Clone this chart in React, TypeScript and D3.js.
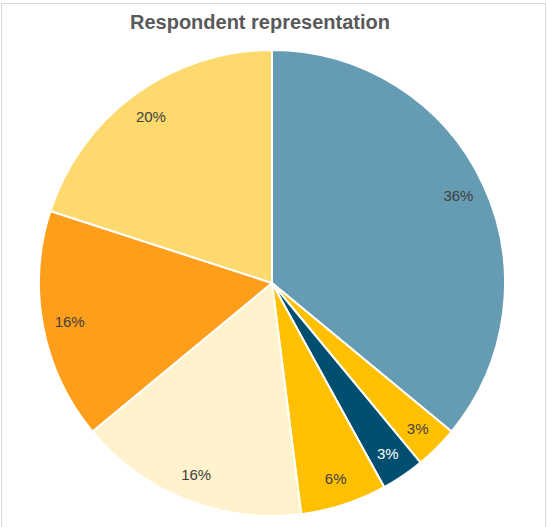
import React from "react";
import * as d3 from "d3";

const categories = ["A", "B", "C", "D", "E", "F", "G"];
const values = [36, 3, 3, 6, 16, 16, 20];
const labels = ["36%", "3%", "3%", "6%", "16%", "16%", "20%"];
const colors = ["#659CB3", "#FFC000", "#004F71", "#FFC000", "#FFF2CC", "#FF9E1B", "#FDD96E"];
const labelColors = ["#404040", "#404040", "#FFFFFF", "#404040", "#404040", "#404040", "#404040"];

export default function App() {
  const W = 548, H = 527;
  const cx = 272, cy = 283, R = 233;
  const pie = d3.pie<number>().value((d) => d).sort(null);
  const arcs = pie(values);
  const arc = d3.arc<d3.PieArcDatum<number>>().innerRadius(0).outerRadius(R);
  const labelArc = d3.arc<d3.PieArcDatum<number>>().innerRadius(206).outerRadius(206);
  return (
    <svg width={W} height={H} style={{ position: "absolute", left: 0, top: 0 }}>
      <rect x={1.5} y={3.5} width={544} height={540} fill="#fff" stroke="#D9D9D9" strokeWidth={1} />
      <text x={260} y={29} textAnchor="middle" fontFamily="Liberation Sans, Arial, sans-serif" fontWeight="bold" fontSize={20} fill="#595959">
        Respondent representation
      </text>
      <g transform={`translate(${cx},${cy})`}>
        {arcs.map((a, i) => (
          <path key={categories[i]} d={arc(a) || ""} fill={colors[i]} stroke="#fff" strokeWidth={2} strokeLinejoin="round" />
        ))}
        {arcs.map((a, i) => {
          const [x, y] = labelArc.centroid(a);
          return (
            <text key={"l" + i} x={x} y={y} dy="0.35em" textAnchor="middle" fontFamily="Liberation Sans, Arial, sans-serif" fontSize={15} fill={labelColors[i]}>
              {labels[i]}
            </text>
          );
        })}
      </g>
    </svg>
  );
}
